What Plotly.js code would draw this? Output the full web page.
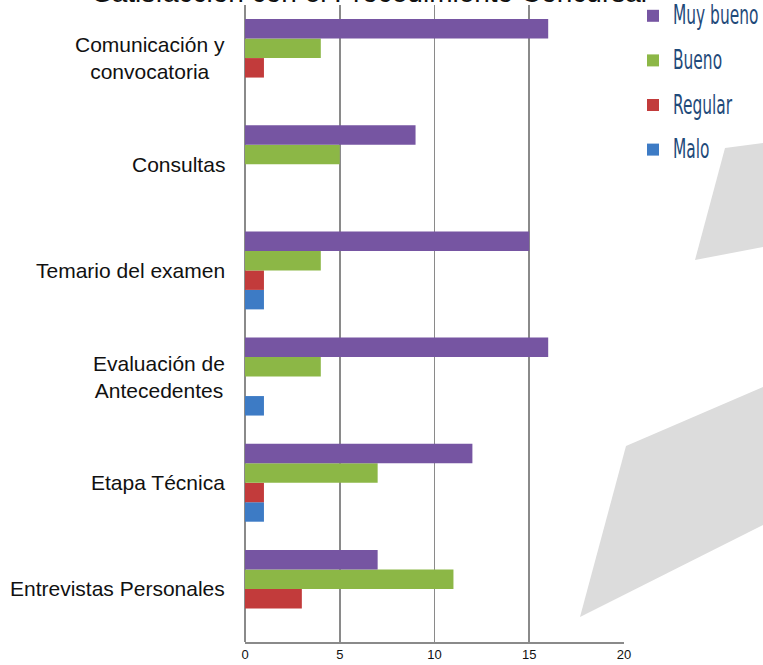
<!DOCTYPE html>
<html>
<head>
<meta charset="utf-8">
<script src="https://cdn.plot.ly/plotly-3.0.1.min.js"></script>
<style>html,body{margin:0;padding:0;background:#fff;}#chart{width:763px;height:665px;}</style>
</head>
<body>
<div id="chart"></div>
<script>
// ---- data ----
var categories = ['Comunicación y convocatoria', 'Consultas', 'Temario del examen', 'Evaluación de Antecedentes', 'Etapa Técnica', 'Entrevistas Personales'];
var categoryLabels = ['Comunicación y<br>convocatoria', 'Consultas', 'Temario del examen', 'Evaluación de<br>Antecedentes', 'Etapa Técnica', 'Entrevistas Personales'];
var seriesNames = ['Malo', 'Regular', 'Bueno', 'Muy bueno'];
var malo     = [0, 0, 1, 1, 1, 0];
var regular  = [1, 0, 1, 0, 1, 3];
var bueno    = [4, 5, 4, 4, 7, 11];
var muyBueno = [16, 9, 15, 16, 12, 7];
var xTicks = [0, 5, 10, 15, 20];
var titleText = 'Satisfacción con el Procedimiento Concursal';

// ---- styles ----
var seriesValues = [malo, regular, bueno, muyBueno];
var seriesColors = ['#3d7bc5', '#c23b3b', '#8cb746', '#7655a2'];

var W = 763, H = 665;
var M = {l: 245, r: 139, t: 5, b: 23, autoexpand: false};
var PW = W - M.l - M.r, PH = H - M.t - M.b;
function px(x) { return (x - M.l) / PW; }
function py(y) { return (H - M.b - y) / PH; }
function poly(pts) {
  return pts.map(function (p, i) { return (i ? 'L' : 'M') + px(p[0]) + ',' + py(p[1]); }).join(' ') + ' Z';
}

var traces = seriesNames.map(function (name, i) {
  return {
    type: 'bar',
    orientation: 'h',
    name: name,
    legendgroup: name,
    legendrank: seriesNames.length - i,
    y: categories,
    x: seriesValues[i],
    marker: {color: seriesColors[i], line: {width: 0}},
    hoverinfo: 'x+name'
  };
});

var annotations = categories.map(function (c, i) {
  return {
    xref: 'paper', yref: 'y',
    x: px(227), y: c,
    xanchor: 'right', yanchor: 'middle', align: 'center',
    text: categoryLabels[i], showarrow: false,
    font: {family: 'Liberation Sans, Arial, sans-serif', size: 21, color: '#111'}
  };
});

var layout = {
  width: W, height: H,
  margin: M,
  paper_bgcolor: '#fff',
  plot_bgcolor: 'rgba(0,0,0,0)',
  title: {
    text: titleText,
    font: {family: 'Liberation Sans, Arial, sans-serif', size: 28, color: '#111'},
    x: 370 / W, xanchor: 'center',
    xref: 'container', yref: 'container',
    y: 1 - 2 / H, yanchor: 'bottom'
  },
  barmode: 'group',
  bargap: 0.266,
  bargroupgap: 0,
  xaxis: {
    range: [0, 20],
    tickvals: xTicks,
    ticktext: xTicks.map(String),
    showgrid: true, gridcolor: '#8a8a8a', gridwidth: 1.8,
    zeroline: true, zerolinecolor: '#8a8a8a', zerolinewidth: 1.8,
    showline: true, linecolor: '#8a8a8a', linewidth: 1.8,
    ticks: '',
    tickfont: {family: 'Liberation Sans, Arial, sans-serif', size: 13, color: '#111'},
    fixedrange: true
  },
  yaxis: {
    type: 'category',
    categoryorder: 'array',
    categoryarray: categories.slice().reverse(),
    showticklabels: false,
    showgrid: false, zeroline: false,
    showline: false,
    ticks: '',
    fixedrange: true
  },
  legend: {
    x: px(633), xanchor: 'left',
    y: py(-5), yanchor: 'top',
    traceorder: 'grouped',
    tracegroupgap: 13,
    bgcolor: 'rgba(0,0,0,0)',
    font: {family: 'DejaVu Sans Condensed, Liberation Sans Narrow, sans-serif', size: 22, color: '#1f4a7a'}
  },
  annotations: annotations,
  shapes: [
    {type: 'path', xref: 'paper', yref: 'paper', layer: 'below',
     path: poly([[725, 148], [763, 143], [763, 247], [695, 260]]),
     fillcolor: '#dcdcdc', line: {width: 0}},
    {type: 'path', xref: 'paper', yref: 'paper', layer: 'below',
     path: poly([[626, 446], [763, 387], [763, 525], [580, 617]]),
     fillcolor: '#dcdcdc', line: {width: 0}}
  ]
};

Plotly.newPlot('chart', traces, layout, {displayModeBar: false, staticPlot: true}).then(function (gd) {
  // narrow, tall legend lettering like the original condensed typeface
  var sx = 0.78, sy = 1.2;
  gd.querySelectorAll('.legend .legendtext').forEach(function (t) {
    var x0 = parseFloat(t.getAttribute('x')) || 0;
    var y0 = parseFloat(t.getAttribute('y')) || 0;
    t.setAttribute('transform', 'matrix(' + sx + ',0,0,' + sy + ',' + (x0 * (1 - sx)) + ',' + (y0 * (1 - sy)) + ')');
  });
});
</script>
</body>
</html>
